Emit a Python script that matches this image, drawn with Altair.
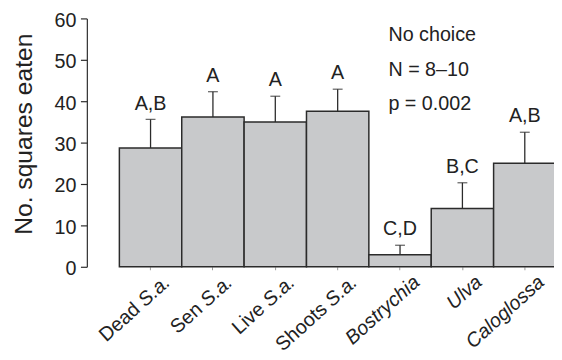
import altair as alt
import pandas as pd

# ---- data ----
categories = ["Dead S.a.", "Sen S.a.", "Live S.a.", "Shoots S.a.", "Bostrychia", "Ulva", "Caloglossa"]
means = [28.7, 36.2, 35.0, 37.6, 2.9, 14.1, 25.0]
upper = [35.6, 42.3, 41.2, 42.9, 5.2, 20.3, 32.5]
letters = ["A,B", "A", "A", "A", "C,D", "B,C", "A,B"]
label_plain = ["Dead", "Sen", "Live", "Shoots", "", "", ""]
label_italic = ["S.a.", "S.a.", "S.a.", "S.a.", "Bostrychia", "Ulva", "Caloglossa"]
notes = ["No choice", "N = 8\u201310", "p = 0.002"]
y_ticks = [0, 10, 20, 30, 40, 50, 60]

df = pd.DataFrame({
    "cat": categories, "mean": means, "upper": upper, "letter": letters,
    "plain": label_plain, "ital": label_italic,
})

FONT = "Liberation Sans"
INK = "#2b2b2b"
W, H = 474, 252

xenc = alt.X("cat:N", sort=categories,
             scale=alt.Scale(paddingInner=0, paddingOuter=0, range=[33, 476]),
             axis=alt.Axis(title=None, labels=False, domain=False, ticks=True,
                           tickSize=3, tickColor="#9a9a9a", tickWidth=1))

yscale = alt.Scale(domain=[0, 60], nice=False)
yaxis = alt.Axis(values=y_ticks, title="No. squares eaten", grid=False,
                 domainColor=INK, domainWidth=1.2, tickColor=INK, tickWidth=1.2,
                 tickSize=6.5, labelPadding=4.5, labelFont=FONT, labelFontSize=20,
                 labelColor="#222222", labelOffset=2,
                 titleFont=FONT, titleFontSize=25, titleFontWeight="normal",
                 titleColor="#222222", titleAngle=270, titleAlign="center",
                 titleBaseline="alphabetic", titleX=-56, titleY=117)

base = alt.Chart(df)

bars = base.mark_bar(fill="#c8c9cb", stroke=INK, strokeWidth=1.5).encode(
    x=xenc, y=alt.Y("mean:Q", scale=yscale, axis=yaxis))

whisk = base.mark_rule(color=INK, strokeWidth=1.3).encode(
    x=xenc, y=alt.Y("mean:Q", scale=yscale), y2="upper:Q")

caps = base.mark_tick(color=INK, thickness=1.3, size=10).encode(
    x=xenc, y=alt.Y("upper:Q", scale=yscale))

lett = base.mark_text(dy=-10, baseline="alphabetic", align="center",
                      font=FONT, fontSize=20, color="#222222").encode(
    x=xenc, y=alt.Y("upper:Q", scale=yscale), text="letter:N")

lab_it = base.mark_text(angle=318, align="right", baseline="alphabetic",
                        dx=4, dy=27, font=FONT, fontSize=20, fontStyle="italic",
                        color="#222222").encode(
    x=xenc, y=alt.value(H), text="ital:N")

lab_pl = base.mark_text(angle=318, align="right", baseline="alphabetic",
                        dx=-37, dy=27, font=FONT, fontSize=20,
                        color="#222222").encode(
    x=xenc, y=alt.value(H), text="plain:N")

note_df = pd.DataFrame({"t": ["\n".join(notes)]})
note = alt.Chart(note_df).mark_text(align="left", baseline="top", lineBreak="\n",
                                    lineHeight=35, font=FONT, fontSize=20,
                                    color="#222222").encode(
    x=alt.value(306), y=alt.value(7), text="t:N")

chart = alt.layer(bars, whisk, caps, lett, lab_it, lab_pl, note).properties(
    width=W, height=H,
    autosize=alt.AutoSizeParams(type="none"),
    padding={"left": 80, "top": 8, "right": 0, "bottom": 92},
).configure_view(strokeWidth=0)

chart.save("out.html", embed_options={"renderer": "svg", "actions": False})
